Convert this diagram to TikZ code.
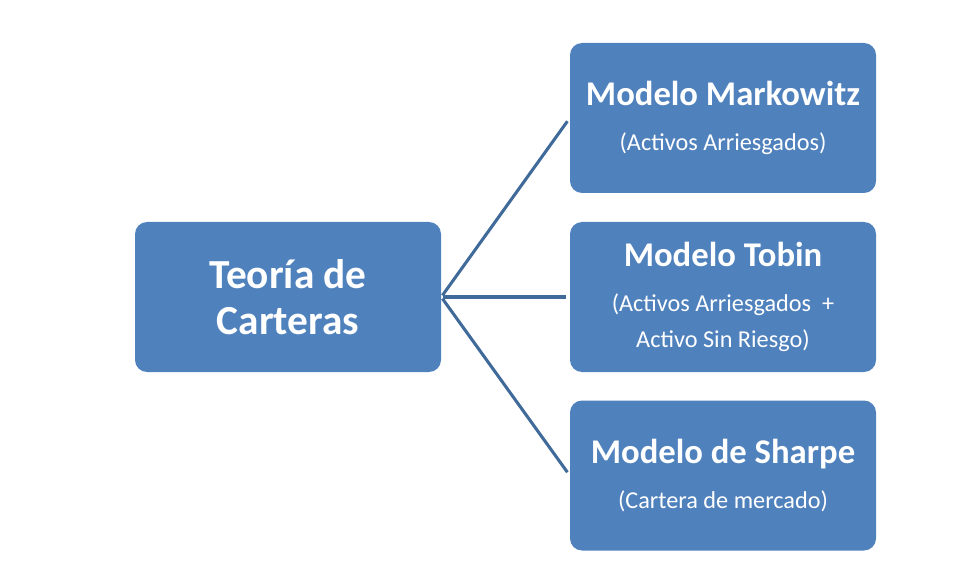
\documentclass[tikz,border=0pt]{standalone}
\usepackage{fontspec}
\setmainfont{Carlito}
\definecolor{boxblue}{HTML}{4F81BD}
\definecolor{lineblue}{HTML}{3F6A99}
\newcommand{\titlefont}{\fontsize{26}{34}\selectfont\bfseries}
\newcommand{\subfont}{\fontsize{18.2}{34}\selectfont}
\tikzset{
  box/.style={fill=boxblue, text=white, rounded corners=9pt, align=center,
    minimum width=229.5pt, minimum height=112.5pt, inner sep=0pt,
    font=\fontsize{18}{34}\selectfont},
  link/.style={draw=lineblue, line width=2.3pt, shorten <=1.5pt, shorten >=3pt}
}
\begin{document}
\begin{tikzpicture}[x=0.75pt,y=-0.75pt]
\useasboundingbox (0,0) rectangle (975,581);

% Root box
\node[box] (teoria) at (288,297) {\fontsize{31}{34}\selectfont\bfseries Teoría de\\\fontsize{31}{34}\selectfont\bfseries Carteras};

% The three models
\node[box] (markowitz) at (723,118) {\titlefont Modelo Markowitz\\\subfont (Activos Arriesgados)};
\node[box] (tobin) at (723,297) {\titlefont Modelo Tobin\\\subfont (Activos Arriesgados~~+\\[-7pt]\subfont Activo Sin Riesgo)};
\node[box] (sharpe) at (723,475.5) {\titlefont Modelo de Sharpe\\\subfont (Cartera de mercado)};

% Connectors
\foreach \m in {markowitz,tobin,sharpe} {
  \draw[link] (teoria.east) -- (\m.west);
}
\end{tikzpicture}
\end{document}
